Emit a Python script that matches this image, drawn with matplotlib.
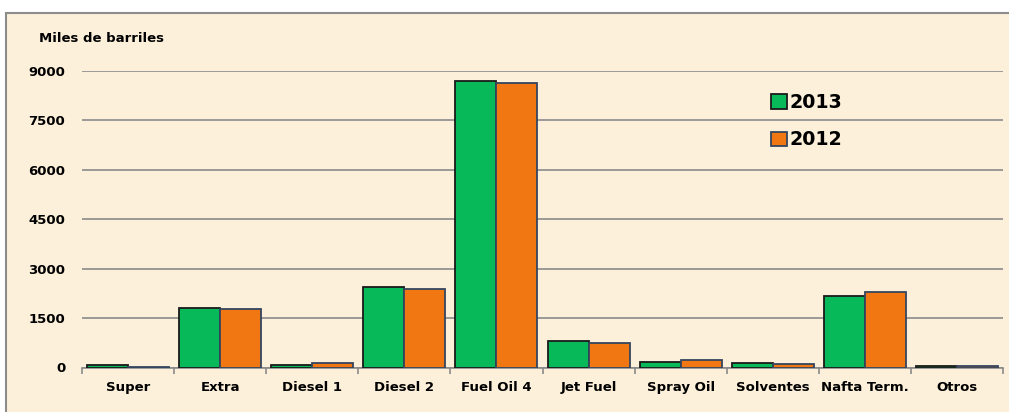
import numpy as np
import matplotlib
matplotlib.use('Agg')
import matplotlib.pyplot as plt
from matplotlib.patches import Rectangle

##### Data #####
categories = ['Super', 'Extra', 'Diesel 1', 'Diesel 2', 'Fuel Oil 4',
              'Jet Fuel', 'Spray Oil', 'Solventes', 'Nafta Term.', 'Otros']
vals_2013 = [80, 1820, 70, 2430, 8685, 800, 180, 130, 2170, 45]
vals_2012 = [30, 1765, 130, 2385, 8635, 730, 230, 120, 2280, 40]
yticks = [0, 1500, 3000, 4500, 6000, 7500, 9000]
################

W, H = 1009, 412
fig = plt.figure(figsize=(W / 100, H / 100), dpi=100)
fig.patch.set_facecolor('white')
plt.rcParams['font.family'] = ['DejaVu Sans']

# parchment background with grey frame (right/bottom edges cut off)
bg = Rectangle((5.5 / W, -0.05), 1, 1.05 - 12.5 / H, transform=fig.transFigure,
               facecolor='#fcf0da', edgecolor='#8c8c8c', linewidth=1.5, zorder=-10)
fig.patches.append(bg)

ax = fig.add_axes([82 / W, 44.5 / H, 921 / W, 296.5 / H])
ax.set_facecolor('none')

x = np.arange(len(categories))
bw = 0.445
ax.bar(x - bw / 2, vals_2013, width=bw, color='#08b95a', edgecolor='#1a1a1a',
       linewidth=1.3, label='2013', zorder=3)
ax.bar(x + bw / 2, vals_2012, width=bw, color='#f07712', edgecolor='#34465e',
       linewidth=1.3, label='2012', zorder=3)

ax.set_xlim(-0.5, len(categories) - 0.5)
ax.set_ylim(0, 9000)
ax.set_yticks(yticks)
ax.set_yticklabels([str(v) for v in yticks], fontsize=9.5, fontweight='bold')
ax.tick_params(axis='y', length=0, pad=12)
ax.grid(axis='y', color='#8a8a8a', linewidth=1.2, zorder=0)

# category labels between boundary ticks
ax.set_xticks(np.arange(len(categories) + 1) - 0.5)
ax.set_xticklabels([])
ax.tick_params(axis='x', length=4, color='#8a8a8a', width=1.2)
ax.set_xticks(x, minor=True)
ax.set_xticklabels(categories, minor=True, fontsize=9.5, fontweight='bold')
ax.tick_params(axis='x', which='minor', length=0, pad=10)

for s in ['top', 'right', 'left']:
    ax.spines[s].set_visible(False)
ax.spines['bottom'].set_color('#8a8a8a')
ax.spines['bottom'].set_linewidth(1.2)

fig.text(39 / W, 1 - 38 / H, 'Miles de barriles', fontsize=9.5,
         fontweight='bold', va='center', ha='left')

leg = ax.legend(loc='upper left', bbox_to_anchor=(758 / W, 1 - 80 / H),
                bbox_transform=fig.transFigure, frameon=False,
                prop={'size': 13.7, 'weight': 'bold'}, handlelength=0.8,
                handleheight=0.8, handletextpad=0.15, labelspacing=0.95,
                borderpad=0.2)

fig.savefig('out.png', dpi=100)
